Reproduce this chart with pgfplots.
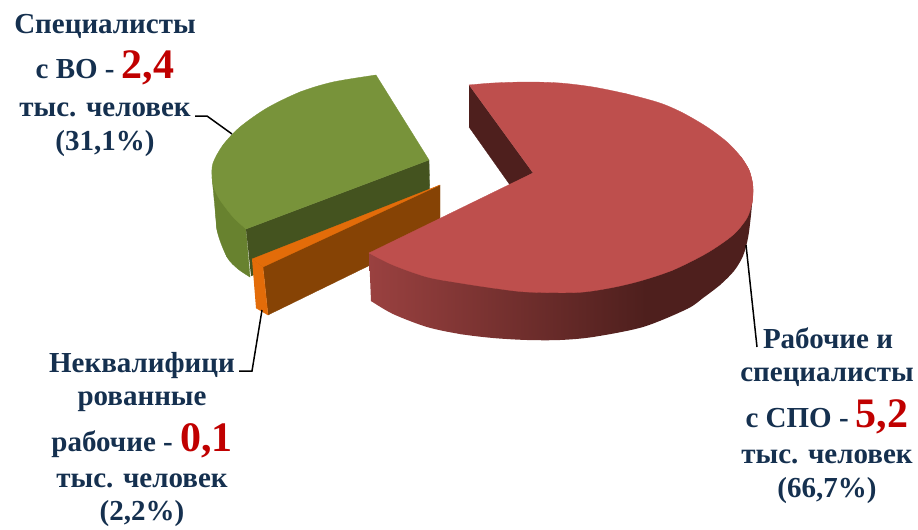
\documentclass[border=0pt]{standalone}
\usepackage{pgfplots}
\usepackage{fontspec}
\setmainfont{Liberation Serif}
\pgfplotsset{compat=1.18}
\definecolor{redtop}{HTML}{BE4F4D}
\definecolor{reddark}{HTML}{4E1F1D}
\definecolor{greentop}{HTML}{78933A}
\definecolor{greendark}{HTML}{44531F}
\definecolor{greenwall}{HTML}{68822F}
\definecolor{orangetop}{HTML}{E36C09}
\definecolor{brownface}{HTML}{864305}
\definecolor{navy}{HTML}{15304F}
\definecolor{numred}{HTML}{C00000}
\pgfdeclarehorizontalshading{redwall}{100bp}{rgb(0bp)=(0.604,0.255,0.251); rgb(25bp)=(0.604,0.255,0.251); rgb(61bp)=(0.306,0.122,0.114); rgb(100bp)=(0.306,0.122,0.114)}
\newcommand{\lab}[1]{\fontsize{29}{32}\selectfont\bfseries\color{navy}#1}
\newcommand{\num}[1]{{\fontsize{42}{44}\selectfont\bfseries\color{numred}#1}}
\pgfplotsset{face/.style={fill=#1,draw=#1,line width=0.3pt},leader/.style={black,line width=1.5pt}}
\begin{document}
\begin{tikzpicture}
\begin{axis}[
  scale only axis, width=918pt, height=526pt,
  xmin=0, xmax=918, ymin=0, ymax=526, y dir=reverse,
  hide axis, clip=false, no marks
]
\addplot[draw=none] coordinates {(0,0)(918,526)};
% green slice
\addplot[face=greenwall,smooth] coordinates {(212,177)(215,193)(217,230)(227,257)(238,269)(250,277)};
\addplot[face=greenwall] coordinates {(212,177)(217,230)(227,257)(250,277)(246,229)};
\addplot[face=greendark] coordinates {(246,229)(429,160)(430,200)(251,276)};
\addplot[face=greentop,smooth] coordinates {(376,75)(333,82)(300,92)(267,108)(240,127)(223,145)(213,163)(212,177)(214,188)(220,200)(233,217)(246,229)};
\addplot[face=greentop] coordinates {(376,75)(429,160)(246,229)(220,200)(223,145)(300,92)};
% orange slice
\addplot[face=brownface] coordinates {(263,267)(440,185)(440,231)(268,315)};
\addplot[face=orangetop] coordinates {(252,259)(440,185)(263,267)};
\addplot[face=orangetop] coordinates {(252,259)(263,267)(268,315)(256,308)};
% red slice
\addplot[face=reddark] coordinates {(469,85)(533,173)(510,185)(469,127)};
\addplot[shading=redwall,draw=none,smooth] coordinates {(371,301)(393,314)(427,327)(460,334)(493,338)(527,340)(560,340)(593,337)(643,327)(687,309)(703,298)(720,285)(734,271)(743,256)(748,238)(751,215)(753,192)};
\addplot[shading=redwall,draw=none] coordinates {(369,253)(371,301)(460,334)(593,337)(720,285)(753,192)};
\addplot[face=redtop,smooth] coordinates {(469,85)(493,83)(527,82)(560,83)(593,87)(627,94)(660,103)(683,113)(707,127)(727,142)(741,157)(749,170)(752.5,183)(753,192)(752,203)};
\addplot[face=redtop,smooth] coordinates {(741,157)(749,170)(752.5,183)(753,192)(752,203)(747,218)(733,235)(707,253)(673,270)(640,281)(610,288)(577,292.5)(527,292)(493,288)(460,283)(427,277)(393,265)(369,253)};
\addplot[face=redtop] coordinates {(469,85)(627,94)(741,157)(752,203)(673,270)(493,288)(369,253)(533,173)};
% leader lines
\addplot[leader] coordinates {(195,116)(207,116)(232,134)};
\addplot[leader] coordinates {(239,371)(252,371)(262,310)};
\addplot[leader] coordinates {(746,245)(757,347)};
% labels
\node[anchor=base] at (axis cs:105,33) {\lab{Специалисты}};
\node[anchor=base] at (axis cs:105,78) {\lab{с ВО - \num{2,4}}};
\node[anchor=base] at (axis cs:105,116) {\lab{тыс. человек}};
\node[anchor=base] at (axis cs:105,150) {\lab{(31,1\%)}};
\node[anchor=base] at (axis cs:142,372) {\lab{Неквалифици}};
\node[anchor=base] at (axis cs:142,405) {\lab{рованные}};
\node[anchor=base] at (axis cs:142,451) {\lab{рабочие - \num{0,1}}};
\node[anchor=base] at (axis cs:142,487) {\lab{тыс. человек}};
\node[anchor=base] at (axis cs:142,520) {\lab{(2,2\%)}};
\node[anchor=base] at (axis cs:828,348) {\lab{Рабочие и}};
\node[anchor=base] at (axis cs:827,381) {\lab{специалисты}};
\node[anchor=base] at (axis cs:827,427) {\lab{с СПО - \num{5,2}}};
\node[anchor=base] at (axis cs:827,463) {\lab{тыс. человек}};
\node[anchor=base] at (axis cs:827,497) {\lab{(66,7\%)}};
\end{axis}
\end{tikzpicture}
\end{document}
